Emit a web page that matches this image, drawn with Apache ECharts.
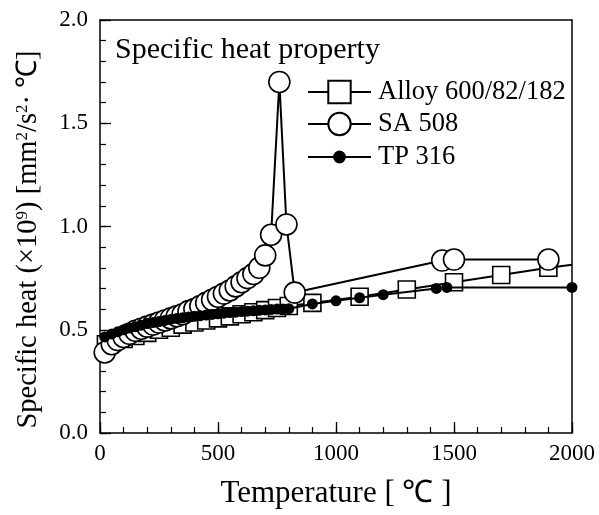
<!DOCTYPE html>
<html>
<head>
<meta charset="utf-8">
<script src="https://cdn.jsdelivr.net/npm/echarts@6/dist/echarts.min.js"></script>
<style>
html,body{margin:0;padding:0;background:#fff;}
#c{width:599px;height:515px;}
</style>
</head>
<body>
<div id="c"></div>
<script>
// ---- data ----
const alloyT  = [25,50,100,150,200,250,300,350,400,450,500,550,600,650,700,750,800,900,1100,1300,1500,1700,1900,2000];
const alloyCp = [0.43,0.44,0.455,0.47,0.485,0.50,0.51,0.525,0.535,0.545,0.555,0.565,0.575,0.585,0.595,0.605,0.615,0.63,0.66,0.695,0.73,0.765,0.80,0.815];

const saT  = [20,50,75,100,125,150,175,200,225,250,275,300,325,350,375,400,425,450,475,500,525,550,575,600,625,650,675,700,725,760,790,825,1450,1500,1900];
const saCp = [0.39,0.43,0.45,0.465,0.48,0.495,0.505,0.515,0.525,0.535,0.545,0.555,0.565,0.575,0.59,0.60,0.615,0.63,0.645,0.66,0.675,0.69,0.71,0.73,0.75,0.77,0.80,0.86,0.96,1.70,1.01,0.68,0.835,0.84,0.84];

const tpT  = [20,50,75,100,125,150,175,200,225,250,275,300,325,350,375,400,425,450,475,500,525,550,575,600,625,650,675,700,725,750,775,800,900,1000,1100,1200,1425,1470,2000];
const tpCp = [0.465,0.48,0.49,0.50,0.508,0.515,0.522,0.53,0.535,0.54,0.545,0.55,0.555,0.558,0.562,0.565,0.568,0.571,0.574,0.577,0.58,0.583,0.585,0.588,0.59,0.592,0.594,0.596,0.598,0.60,0.60,0.602,0.625,0.64,0.655,0.67,0.70,0.705,0.705];

const seriesNames = ['Alloy 600/82/182','SA 508','TP 316'];
const xTicks = [0,500,1000,1500,2000];
const yTicks = [0.0,0.5,1.0,1.5,2.0];

const FONT = "'Liberation Serif','Times New Roman',serif";

function pairs(xs, ys, noMarkerAt) {
  return xs.map((x,i) => {
    if (noMarkerAt !== undefined && x === noMarkerAt) {
      return {value:[x, ys[i]], symbol:'none'};
    }
    return [x, ys[i]];
  });
}

const chart = echarts.init(document.getElementById('c'), null, {renderer:'canvas'});
const axisLine = {show:true, onZero:false, lineStyle:{color:'#000', width:1.5}};
const noLine = {show:false, onZero:false};
const legendText = {fontFamily:FONT, fontSize:26.5, color:'#000', lineHeight:28, padding:[0,0,0,2]};
const minorTickX = {
  type:'value', min:0, max:2000, interval:100, position:'bottom',
  axisLine:noLine, axisLabel:{show:false}, splitLine:{show:false},
  axisTick:{show:true, inside:true, length:6, lineStyle:{color:'#000', width:1.2}}
};
const minorTickY = {
  type:'value', min:0, max:2, interval:0.1, position:'left',
  axisLine:noLine, axisLabel:{show:false}, splitLine:{show:false},
  axisTick:{show:true, inside:true, length:6, lineStyle:{color:'#000', width:1.2}}
};
chart.setOption({
  animation:false,
  backgroundColor:'#fff',
  textStyle:{fontFamily:FONT},
  grid:{left:100, right:27, top:20, bottom:82, show:false},
  title:{
    text:'Specific heat property',
    left:110, top:30,
    textStyle:{fontFamily:FONT, fontSize:30, fontWeight:'normal', color:'#000'}
  },
  legend:[{
    data:[seriesNames[0], seriesNames[1]],
    orient:'vertical',
    left:302, top:73,
    itemWidth:63, itemHeight:28, itemGap:4,
    textStyle:legendText
  },{
    data:[seriesNames[2]],
    orient:'vertical',
    left:302, top:138,
    itemWidth:63, itemHeight:16, itemGap:4,
    textStyle:legendText
  }],
  xAxis:[{
    type:'value', min:0, max:2000, interval:500,
    name:'Temperature [ ℃ ]', nameLocation:'middle', nameGap:45,
    nameTextStyle:{fontFamily:FONT, fontSize:31, color:'#000'},
    axisLine:axisLine,
    axisTick:{show:true, inside:true, length:11, lineStyle:{color:'#000', width:1.3}},
    axisLabel:{fontFamily:FONT, fontSize:23, color:'#000', margin:9,
      formatter:v => xTicks.includes(v) ? String(v) : ''},
    splitLine:{show:false}
  },{
    type:'value', min:0, max:2000, interval:500, position:'top',
    axisLine:axisLine, axisTick:{show:false}, axisLabel:{show:false}, splitLine:{show:false}
  }, minorTickX],
  yAxis:[{
    type:'value', min:0, max:2, interval:0.5,
    name:'{a|Specific heat (×10}{s|9}{a|) [mm}{s|2}{a|/s}{s|2}{a|· ℃]}',
    nameLocation:'middle', nameGap:56, nameRotate:90,
    nameTextStyle:{
      fontFamily:FONT, fontSize:28, color:'#000', padding:[0,26,0,0],
      rich:{
        a:{fontFamily:FONT, fontSize:28.5, lineHeight:30, color:'#000'},
        s:{fontFamily:FONT, fontSize:17, lineHeight:30, color:'#000', verticalAlign:'top', padding:[0,0,10,0]}
      }
    },
    axisLine:axisLine,
    axisTick:{show:true, inside:true, length:11, lineStyle:{color:'#000', width:1.3}},
    axisLabel:{fontFamily:FONT, fontSize:23, color:'#000', margin:12,
      formatter:v => yTicks.some(t => Math.abs(t-v)<1e-9) ? v.toFixed(1) : ''},
    splitLine:{show:false}
  },{
    type:'value', min:0, max:2, interval:0.5, position:'right',
    axisLine:axisLine, axisTick:{show:false},
    axisLabel:{show:false}, splitLine:{show:false}
  }, minorTickY],
  series:[
    {
      name:seriesNames[0], type:'line', data:pairs(alloyT, alloyCp, 2000),
      symbol:'rect', symbolSize:17, showAllSymbol:true,
      lineStyle:{color:'#000', width:2},
      itemStyle:{color:'#fff', borderColor:'#000', borderWidth:1.6},
      z:2
    },
    {
      name:seriesNames[1], type:'line', data:pairs(saT, saCp),
      symbol:'circle', symbolSize:21, showAllSymbol:true,
      lineStyle:{color:'#000', width:2},
      itemStyle:{color:'#fff', borderColor:'#000', borderWidth:1.6},
      z:3
    },
    {
      name:seriesNames[2], type:'line', data:pairs(tpT, tpCp),
      symbol:'circle', symbolSize:11, showAllSymbol:true,
      lineStyle:{color:'#000', width:2},
      itemStyle:{color:'#000', borderColor:'#000', borderWidth:0},
      z:4
    }
  ]
});
</script>
</body>
</html>
